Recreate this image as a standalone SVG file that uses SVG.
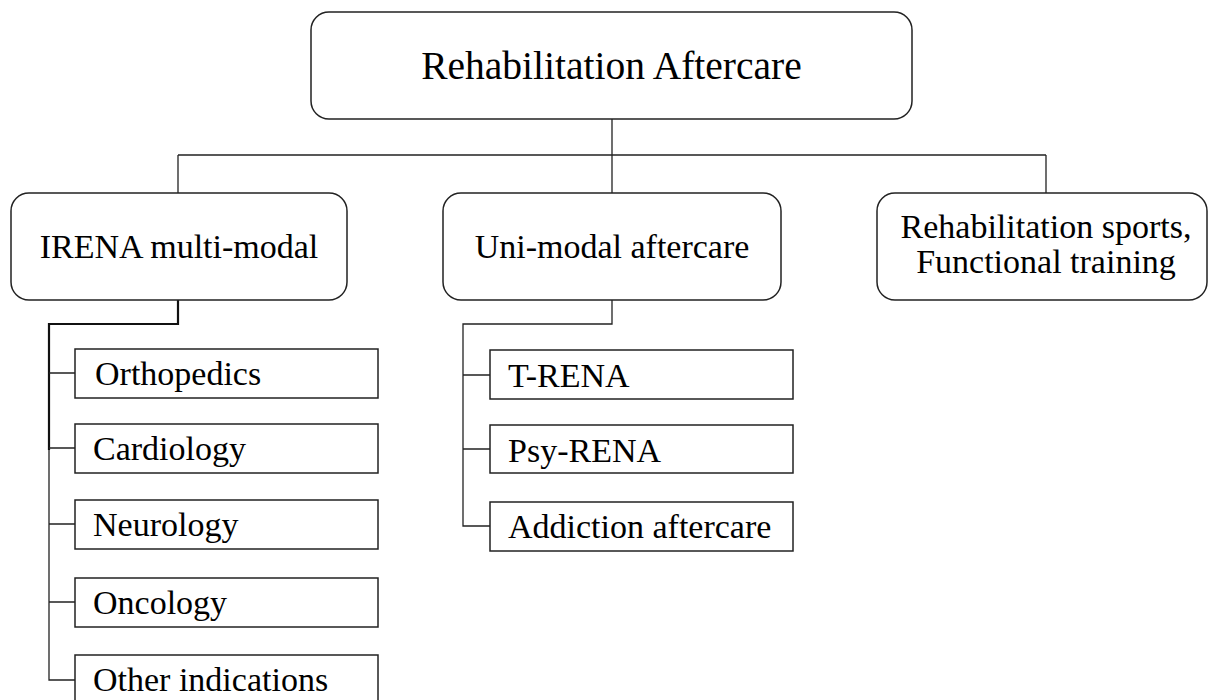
<svg xmlns="http://www.w3.org/2000/svg" width="1209" height="700" viewBox="0 0 1209 700">
<style>
.rbox{fill:#fff;stroke:#222;stroke-width:1.5}
.sbox{fill:#fff;stroke:#222;stroke-width:1.5}
.t{font-family:"Liberation Serif","Times New Roman",serif;fill:#000}
.t34{font-size:34px}
.t40{font-size:39.5px}
.ln{fill:none;stroke:#222;stroke-width:1.3}
.lnb{fill:none;stroke:#111;stroke-width:2.2}
</style>
<rect width="1209" height="700" fill="#fff"/>
<g id="connectors">
<path class="ln" d="M612 119 V193 M178 155 H1046 M178 155 V193 M1046 155 V193"/>
<path class="lnb" d="M178 300 V324 H49 V450"/>
<path class="ln" d="M49 450 V680 H75 M49 373 H75 M49 448 H75 M49 524 H75 M49 602 H75"/>
<path class="ln" d="M612 300 V324 H463 V526 H490 M463 375 H490 M463 449 H490"/>
</g>
<g id="root">
<rect class="rbox" x="311" y="12" width="601" height="107" rx="18"/>
<text class="t t40" x="611.5" y="79" text-anchor="middle">Rehabilitation Aftercare</text>
</g>
<g id="irena">
<rect class="rbox" x="11" y="193" width="336" height="107" rx="18"/>
<text class="t t34" x="179" y="258" text-anchor="middle">IRENA multi-modal</text>
</g>
<g id="unimodal">
<rect class="rbox" x="443" y="193" width="338" height="107" rx="18"/>
<text class="t t34" x="612" y="258" text-anchor="middle">Uni-modal aftercare</text>
</g>
<g id="sports">
<rect class="rbox" x="877" y="193" width="330" height="107" rx="18"/>
<text class="t t34" x="1046" y="238" text-anchor="middle">Rehabilitation sports,</text>
<text class="t t34" x="1046" y="273" text-anchor="middle">Functional training</text>
</g>
<g id="orthopedics">
<rect class="sbox" x="75" y="349" width="303" height="49"/>
<text class="t t34" x="95" y="385">Orthopedics</text>
</g>
<g id="cardiology">
<rect class="sbox" x="75" y="424" width="303" height="49"/>
<text class="t t34" x="93" y="460">Cardiology</text>
</g>
<g id="neurology">
<rect class="sbox" x="75" y="500" width="303" height="49"/>
<text class="t t34" x="93" y="536">Neurology</text>
</g>
<g id="oncology">
<rect class="sbox" x="75" y="578" width="303" height="49"/>
<text class="t t34" x="93" y="614">Oncology</text>
</g>
<g id="other">
<rect class="sbox" x="75" y="655" width="303" height="49"/>
<text class="t t34" x="93" y="691">Other indications</text>
</g>
<g id="trena">
<rect class="sbox" x="490" y="350" width="303" height="49"/>
<text class="t t34" x="508" y="387">T-RENA</text>
</g>
<g id="psyrena">
<rect class="sbox" x="490" y="425" width="303" height="48"/>
<text class="t t34" x="508" y="462">Psy-RENA</text>
</g>
<g id="addiction">
<rect class="sbox" x="490" y="502" width="303" height="49"/>
<text class="t t34" x="508" y="538">Addiction aftercare</text>
</g>
</svg>
